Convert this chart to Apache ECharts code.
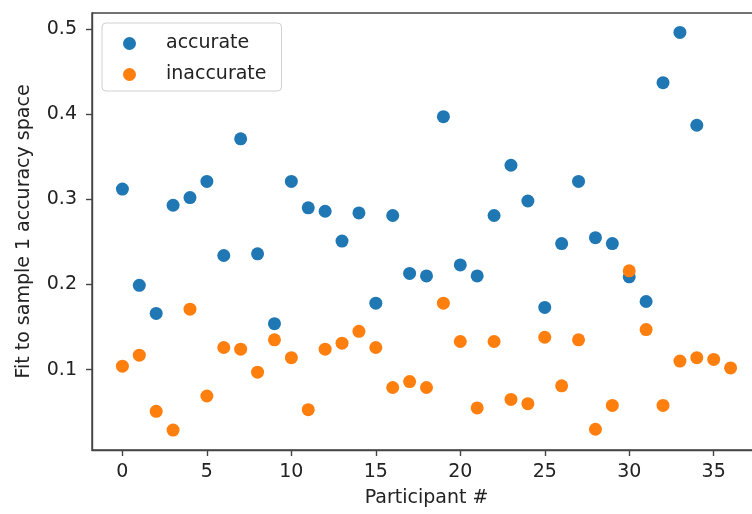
<!DOCTYPE html>
<html>
<head>
<meta charset="utf-8">
<script src="https://cdn.jsdelivr.net/npm/echarts@6/dist/echarts.min.js"></script>
<style>html,body{margin:0;padding:0;background:#fff;overflow:hidden;width:752px;height:514px}#c{width:761px;height:514px}</style>
</head>
<body>
<div id="c"></div>
<script>
const accurateX = [0,1,2,3,4,5,6,7,8,9,10,11,12,13,14,15,16,17,18,19,20,21,22,23,24,25,26,27,28,29,30,31,32,33,34];
const accurateY = [0.312,0.199,0.166,0.293,0.302,0.321,0.234,0.371,0.236,0.154,0.321,0.290,0.286,0.251,0.284,0.178,0.281,0.213,0.210,0.397,0.223,0.210,0.281,0.340,0.298,0.173,0.248,0.321,0.255,0.248,0.209,0.180,0.437,0.496,0.387];
const inaccurateX = [0,1,2,3,4,5,6,7,8,9,10,11,12,13,14,15,16,17,18,19,20,21,22,23,24,25,26,27,28,29,30,31,32,33,34,35,36];
const inaccurateY = [0.104,0.117,0.051,0.029,0.171,0.069,0.126,0.124,0.097,0.135,0.114,0.053,0.124,0.131,0.145,0.126,0.079,0.086,0.079,0.178,0.133,0.055,0.133,0.065,0.060,0.138,0.081,0.135,0.030,0.058,0.216,0.147,0.058,0.110,0.114,0.112,0.102];
const xTicks = [0,5,10,15,20,25,30,35];
const yTicks = [0.1,0.2,0.3,0.4,0.5];
const seriesNames = ['accurate','inaccurate'];

const FONT = 'DejaVu Sans';
const FS = 19;
const TXT = '#222';
const AX = '#444';

const chart = echarts.init(document.getElementById('c'), null, {renderer:'canvas'});
chart.setOption({
  animation: false,
  backgroundColor: '#fff',
  grid: {left: 92, right: 0, top: 13, bottom: 64, show: true, borderColor: AX, borderWidth: 1.4, backgroundColor: 'transparent'},
  legend: {
    data: seriesNames,
    orient: 'vertical',
    left: 102, top: 23,
    padding: [11, 15, 7, 21],
    itemGap: 12,
    itemWidth: 13, itemHeight: 13,
    icon: 'circle',
    backgroundColor: 'rgba(255,255,255,0.8)',
    borderColor: '#d0d0d0', borderWidth: 1, borderRadius: 4,
    textStyle: {fontFamily: FONT, fontSize: FS, color: TXT, lineHeight: 19, padding: [0,0,0,25]}
  },
  xAxis: {
    type: 'value', min: -1.8, max: 37.8,
    name: 'Participant #', nameLocation: 'middle', nameGap: 39,
    nameTextStyle: {fontFamily: FONT, fontSize: FS, color: TXT},
    splitLine: {show: false},
    axisLine: {show: true, onZero: false, lineStyle: {color: AX, width: 1.4}},
    axisTick: {show: true, length: 6, customValues: xTicks, lineStyle: {color: AX, width: 1.4}},
    axisLabel: {fontFamily: FONT, fontSize: FS, color: TXT, margin: 13, customValues: xTicks, formatter: v => String(v)}
  },
  yAxis: {
    type: 'value', min: 0.0056, max: 0.5188,
    name: 'Fit to sample 1 accuracy space', nameLocation: 'middle', nameGap: 58, nameRotate: 90,
    nameTextStyle: {fontFamily: FONT, fontSize: FS, color: TXT},
    splitLine: {show: false},
    axisLine: {show: true, onZero: false, lineStyle: {color: AX, width: 1.4}},
    axisTick: {show: true, length: 6, customValues: yTicks, lineStyle: {color: AX, width: 1.4}},
    axisLabel: {fontFamily: FONT, fontSize: FS, color: TXT, margin: 15, customValues: yTicks, formatter: v => v.toFixed(1)}
  },
  series: [
    {name: seriesNames[0], type: 'scatter', symbolSize: 13, itemStyle: {color: '#1f77b4', opacity: 1},
     data: accurateX.map((x, i) => [x, accurateY[i]])},
    {name: seriesNames[1], type: 'scatter', symbolSize: 13, itemStyle: {color: '#ff7f0e', opacity: 1},
     data: inaccurateX.map((x, i) => [x, inaccurateY[i]])}
  ]
});
</script>
</body>
</html>
